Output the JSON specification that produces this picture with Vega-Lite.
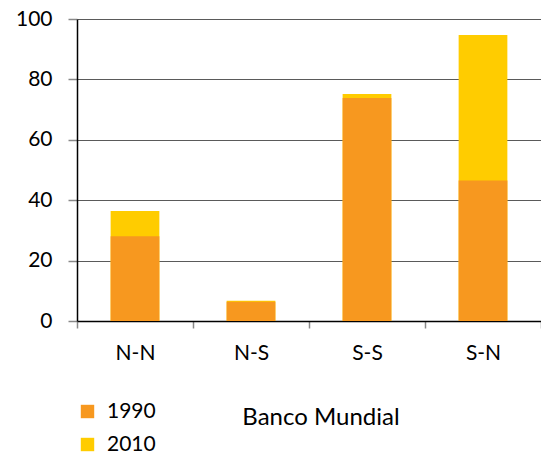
{
  "$schema": "https://vega.github.io/schema/vega-lite/v6.json",
  "width": 464,
  "height": 302,
  "autosize": {"type": "none"},
  "padding": {"left": 77, "top": 19, "right": 0, "bottom": 136},
  "background": "white",
  "config": {
    "font": "Lato",
    "view": {"stroke": null},
    "axis": {"labelFont": "Lato", "labelColor": "#000", "labelFontSize": 20}
  },
  "title": {
    "text": "Banco Mundial",
    "orient": "top",
    "anchor": "middle",
    "frame": "group",
    "baseline": "alphabetic",
    "dx": 12,
    "offset": 0,
    "dy": 441,
    "fontSize": 24,
    "fontWeight": "normal",
    "color": "#000",
    "font": "Lato"
  },
  "data": {
    "values": [
      {"cat": "N-N", "year": "2010", "value": 36.4},
      {"cat": "N-S", "year": "2010", "value": 6.7},
      {"cat": "S-S", "year": "2010", "value": 75.2},
      {"cat": "S-N", "year": "2010", "value": 94.7},
      {"cat": "N-N", "year": "1990", "value": 28.1},
      {"cat": "N-S", "year": "1990", "value": 6.4},
      {"cat": "S-S", "year": "1990", "value": 73.8},
      {"cat": "S-N", "year": "1990", "value": 46.5}
    ]
  },
  "mark": {"type": "bar", "width": {"band": 0.42}},
  "encoding": {
    "x": {
      "field": "cat",
      "type": "nominal",
      "sort": ["N-N", "N-S", "S-S", "S-N"],
      "scale": {"paddingInner": 0, "paddingOuter": 0},
      "axis": {
        "title": null,
        "labelAngle": 0,
        "tickBand": "extent",
        "domainColor": "#000",
        "domainWidth": 1.5,
        "tickColor": "#888",
        "tickSize": 7,
        "tickWidth": 1.5,
        "labelPadding": 14,
        "labelFontSize": 21
      }
    },
    "y": {
      "field": "value",
      "type": "quantitative",
      "stack": null,
      "scale": {"domain": [0, 100]},
      "axis": {
        "title": null,
        "values": [0, 20, 40, 60, 80, 100],
        "gridColor": "#5a5a5a",
        "gridWidth": 1.2,
        "domainColor": "#000",
        "domainWidth": 1.5,
        "tickColor": "#888",
        "tickSize": 9,
        "tickWidth": 1.5,
        "labelPadding": 16,
        "labelFontSize": 21
      }
    },
    "color": {
      "field": "year",
      "type": "nominal",
      "scale": {"domain": ["1990", "2010"], "range": ["#F7981F", "#FFCC00"]},
      "legend": {
        "title": null,
        "orient": "none",
        "legendX": 0,
        "legendY": 382,
        "symbolType": "square",
        "symbolSize": 180,
        "symbolStrokeWidth": 0,
        "labelFontSize": 21,
        "labelFont": "Lato",
        "labelColor": "#000",
        "labelOffset": 9,
        "rowPadding": 11
      }
    },
    "order": {"field": "year", "sort": "descending"}
  }
}
